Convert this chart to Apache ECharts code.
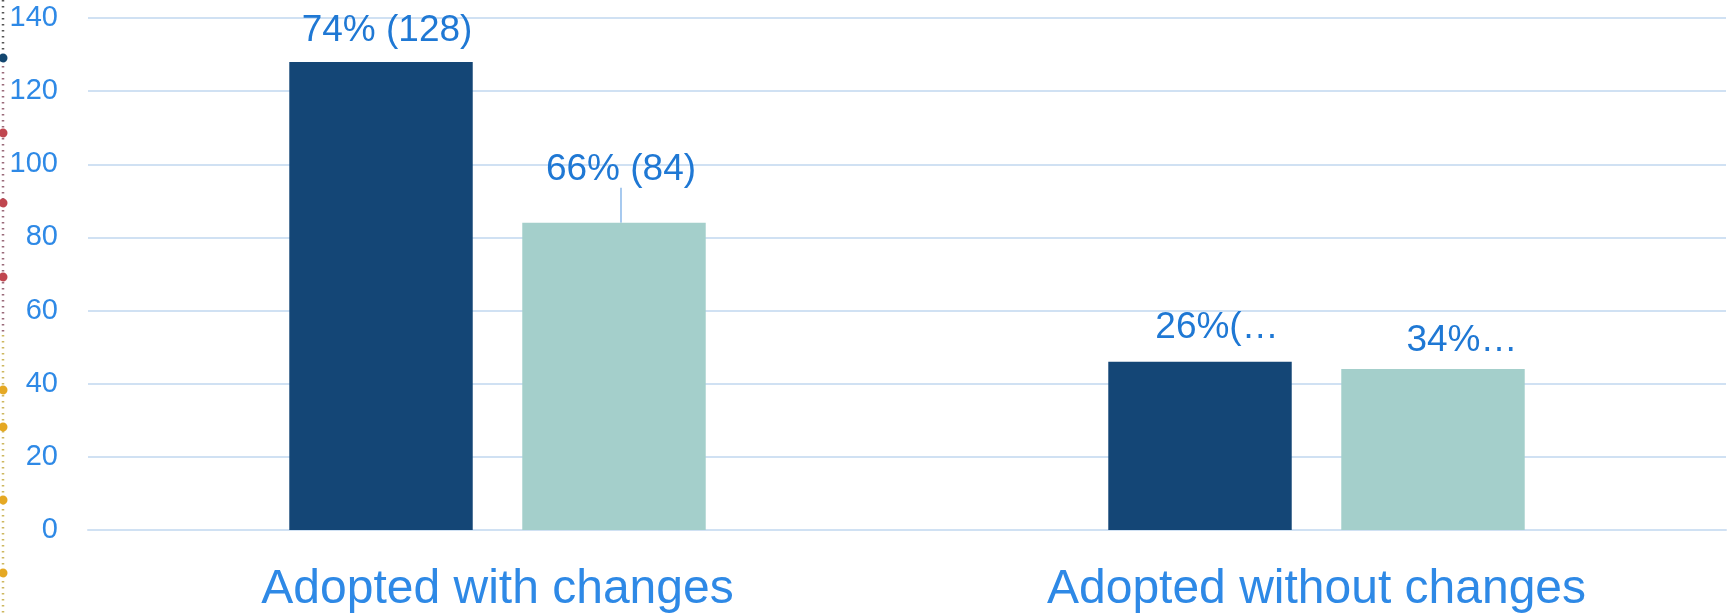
<!DOCTYPE html>
<html>
<head>
<meta charset="utf-8">
<script src="https://cdn.jsdelivr.net/npm/echarts@6/dist/echarts.min.js"></script>
<style>
  html, body { margin: 0; padding: 0; background: #fff; }
  #chart { width: 1731px; height: 614px; }
</style>
</head>
<body>
<div id="chart"></div>
<script>
const categories = ['Adopted with changes', 'Adopted without changes'];
// grouped by series (dark / light)
const darkValues = [128, 46];
const lightValues = [84, 44];
const darkLabels = ['74% (128)', '26%(…'];
const lightLabels = ['66% (84)', '34%…'];

// left-edge dotted strip (leftover from slide)
const stripDots = [
  { y: 58, c: '#13466f' },
  { y: 133, c: '#c0464f' }, { y: 203, c: '#c0464f' }, { y: 277, c: '#c0464f' },
  { y: 390, c: '#e5a823' }, { y: 427, c: '#e5a823' }, { y: 500, c: '#e5a823' }, { y: 573, c: '#e5a823' }
];

const chart = echarts.init(document.getElementById('chart'));

const FONT = 'Liberation Sans, Arial, sans-serif';

const labelOffsets = {
  dark: [{ dx: 6, dy: -8 }, { dx: 17, dy: -10 }],
  light: [{ dx: 7, dy: -30 }, { dx: 29, dy: -5 }]
};

const graphic = [
  { type: 'line', shape: { x1: 3, y1: 0, x2: 3, y2: 60 },
    style: { stroke: '#555', lineWidth: 2.5, lineDash: [1.5, 4.5] } },
  { type: 'line', shape: { x1: 3, y1: 60, x2: 3, y2: 335 },
    style: { stroke: '#9a6a7a', lineWidth: 2.5, lineDash: [1.5, 4.5] } },
  { type: 'line', shape: { x1: 3, y1: 335, x2: 3, y2: 614 },
    style: { stroke: '#cdb860', lineWidth: 2.5, lineDash: [1.5, 4.5] } }
].concat(stripDots.map(d => ({
  type: 'circle', shape: { cx: 3, cy: d.y, r: 4.5 }, style: { fill: d.c }
})));

chart.setOption({
  animation: false,
  backgroundColor: '#fff',
  grid: { left: 88, right: 5, top: 18, bottom: 83 },
  graphic: graphic,
  xAxis: {
    type: 'category',
    data: categories,
    axisLine: { show: true, lineStyle: { color: '#d0e1f3', width: 2 } },
    axisTick: { show: false },
    axisLabel: { color: '#2e89e6', fontSize: 48, margin: 36, fontFamily: FONT }
  },
  yAxis: {
    type: 'value',
    min: 0, max: 140, interval: 20,
    axisLine: { show: false },
    axisTick: { show: false },
    splitLine: { lineStyle: { color: '#d0e1f3', width: 2 } },
    axisLabel: { color: '#2e89e6', fontSize: 29, margin: 30, fontFamily: FONT }
  },
  series: [
    {
      name: 'dark',
      type: 'bar',
      data: darkValues,
      barWidth: '22.4%',
      barGap: '27%',
      itemStyle: { color: '#144676' },
      label: {
        show: true, position: 'top', distance: 5,
        color: '#1f78d4', fontSize: 37, fontFamily: FONT,
        formatter: p => darkLabels[p.dataIndex]
      },
      labelLayout: p => labelOffsets.dark[p.dataIndex]
    },
    {
      name: 'light',
      type: 'bar',
      data: lightValues.map((v, i) => ({
        value: v,
        labelLine: { show: i === 0 }
      })),
      barWidth: '22.4%',
      itemStyle: { color: '#a4cfcb' },
      label: {
        show: true, position: 'top', distance: 5,
        color: '#1f78d4', fontSize: 37, fontFamily: FONT,
        formatter: p => lightLabels[p.dataIndex]
      },
      labelLine: { show: true, lineStyle: { color: '#8ab8ea', width: 1.5 } },
      labelLayout: p => labelOffsets.light[p.dataIndex]
    }
  ]
});
</script>
</body>
</html>
